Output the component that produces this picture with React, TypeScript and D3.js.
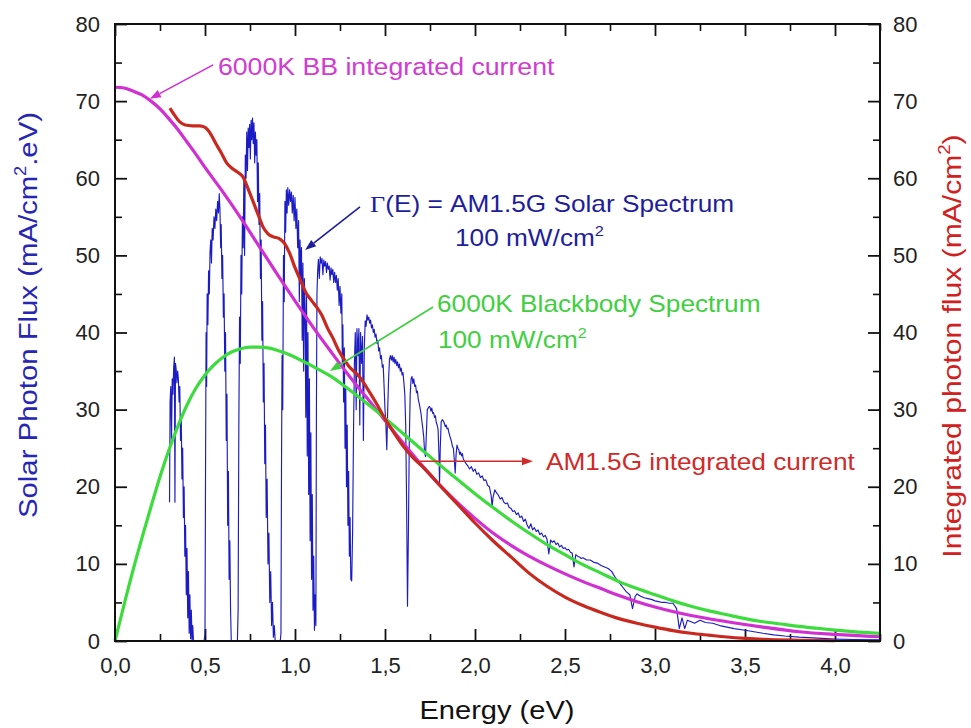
import React, { useEffect, useRef } from 'react';
import * as d3 from 'd3';

type Pt = [number, number];

// AM1.5G solar photon flux per eV [E (eV), mA/cm2.eV]
const am15gFlux: Pt[] = [
  [0.303, 18], [0.306, 31], [0.310, 33], [0.314, 26], [0.318, 34], [0.322, 32], [0.326, 35.5], [0.330, 36.8],
  [0.333, 18], [0.336, 36], [0.340, 35.2], [0.344, 33.5], [0.348, 35], [0.352, 34], [0.356, 31], [0.360, 33],
  [0.364, 26], [0.368, 29], [0.372, 21], [0.376, 25], [0.380, 16], [0.384, 20], [0.388, 11], [0.392, 15],
  [0.396, 6], [0.400, 12], [0.404, 3], [0.408, 9], [0.412, 1], [0.416, 6], [0.420, 0.3], [0.424, 4],
  [0.428, 0], [0.432, 2], [0.436, 0], [0.495, 0],
  [0.500, 1], [0.503, 22], [0.506, 40], [0.509, 33], [0.512, 45], [0.516, 41], [0.520, 48], [0.524, 45],
  [0.528, 50.5], [0.532, 52], [0.536, 49], [0.540, 53.5], [0.545, 52], [0.550, 55], [0.555, 53.5], [0.560, 56],
  [0.565, 54.5], [0.570, 57], [0.575, 55.5], [0.579, 58], [0.583, 56], [0.587, 51], [0.590, 54], [0.594, 47],
  [0.598, 50], [0.602, 42], [0.606, 45], [0.610, 35], [0.614, 40], [0.618, 26], [0.622, 32], [0.626, 15],
  [0.630, 22], [0.634, 8], [0.638, 13], [0.642, 4], [0.646, 0], [0.680, 0],
  [0.684, 4], [0.688, 28], [0.692, 42], [0.696, 36], [0.700, 50], [0.704, 45], [0.708, 55], [0.712, 51],
  [0.716, 60], [0.720, 50], [0.724, 63], [0.728, 60], [0.732, 66], [0.736, 61], [0.740, 66.5], [0.744, 64],
  [0.748, 67], [0.752, 62.5], [0.756, 67.5], [0.760, 65], [0.764, 67.8], [0.768, 64.5], [0.772, 67.2], [0.776, 62],
  [0.780, 66], [0.784, 63], [0.788, 65], [0.792, 57], [0.796, 62], [0.800, 54], [0.804, 58], [0.808, 47],
  [0.812, 52], [0.816, 39], [0.820, 44], [0.824, 31], [0.828, 36], [0.832, 23], [0.836, 28], [0.840, 16],
  [0.845, 21], [0.850, 10], [0.855, 14], [0.860, 5], [0.865, 9], [0.870, 2], [0.875, 5], [0.880, 0.5],
  [0.885, 2], [0.890, 0], [0.918, 0],
  [0.922, 1], [0.925, 22], [0.928, 37], [0.932, 30], [0.936, 50], [0.940, 44], [0.944, 57], [0.948, 53],
  [0.952, 58.5], [0.956, 55.5], [0.960, 58.8], [0.965, 56.5], [0.970, 58.5], [0.975, 57], [0.980, 58.2], [0.985, 55.5],
  [0.990, 57.8], [0.995, 54.5], [1.000, 57.5], [1.005, 53.5], [1.010, 56], [1.015, 51], [1.020, 54.5], [1.024, 44],
  [1.028, 52], [1.032, 47], [1.036, 51], [1.040, 39], [1.044, 49], [1.048, 35], [1.052, 47], [1.056, 43],
  [1.060, 29], [1.064, 45], [1.068, 24], [1.072, 40], [1.076, 19], [1.080, 34], [1.084, 13], [1.088, 27],
  [1.092, 8], [1.096, 19], [1.100, 4], [1.104, 11], [1.108, 1.4], [1.112, 6], [1.116, 2],
  [1.119, 30], [1.122, 45], [1.126, 48], [1.130, 49.5], [1.135, 47], [1.140, 49.8], [1.145, 49], [1.150, 49.6],
  [1.155, 47.5], [1.160, 49.4], [1.165, 48.6], [1.170, 49.2], [1.175, 47.8], [1.180, 49], [1.185, 48.2], [1.190, 48.6],
  [1.195, 46.8], [1.200, 48.4], [1.205, 47.5], [1.210, 48.2], [1.215, 46.5], [1.220, 47.8], [1.225, 46.5], [1.230, 47.4],
  [1.235, 45.5], [1.240, 47], [1.245, 43.5], [1.250, 46], [1.255, 42.5], [1.260, 45], [1.263, 36], [1.266, 41],
  [1.270, 31], [1.274, 38], [1.278, 25], [1.282, 33], [1.286, 20], [1.290, 28], [1.294, 15], [1.298, 22],
  [1.302, 11], [1.306, 16], [1.310, 8], [1.315, 7.8], [1.320, 14], [1.325, 27],
  [1.330, 36], [1.335, 40], [1.340, 30], [1.344, 40.5], [1.350, 37], [1.355, 40.5], [1.360, 28], [1.364, 40],
  [1.370, 36], [1.375, 39.5], [1.380, 26], [1.385, 38], [1.390, 41.5], [1.395, 40.8], [1.400, 42.3], [1.405, 41.6],
  [1.410, 42], [1.415, 41.2], [1.420, 41.6], [1.425, 40.6], [1.430, 41], [1.435, 40], [1.440, 40.4], [1.445, 39.4],
  [1.450, 39.8], [1.455, 38.6], [1.460, 39], [1.465, 37.6], [1.470, 38], [1.475, 36.6], [1.480, 37], [1.485, 35.5],
  [1.490, 35.8], [1.495, 33], [1.500, 30], [1.505, 28], [1.510, 24.8], [1.515, 30], [1.520, 34], [1.525, 36.5],
  [1.530, 37], [1.535, 36.4], [1.540, 37], [1.545, 36.2], [1.550, 36.8], [1.555, 36], [1.560, 36.5], [1.565, 35.7],
  [1.570, 36.2], [1.575, 35.4], [1.580, 35.9], [1.585, 35], [1.590, 35.4], [1.595, 34.5], [1.600, 34.8], [1.605, 33.5],
  [1.610, 32], [1.615, 28], [1.620, 18], [1.625, 4.5], [1.630, 14], [1.635, 26], [1.640, 32], [1.645, 34],
  [1.650, 34.3], [1.655, 33.4], [1.660, 34], [1.665, 33], [1.670, 33.2], [1.675, 32.2], [1.680, 32.4], [1.685, 31.3],
  [1.690, 30.8], [1.695, 30.2], [1.700, 29.5], [1.705, 28.5], [1.710, 27.6], [1.715, 26.5], [1.720, 24.5], [1.725, 23.9],
  [1.730, 27], [1.735, 30], [1.740, 30.2], [1.745, 30.4], [1.750, 30.3], [1.755, 29.8], [1.760, 30.2], [1.765, 29.5],
  [1.770, 29.6], [1.775, 29], [1.780, 29.2], [1.785, 28.3], [1.790, 28], [1.795, 27.4], [1.800, 24], [1.803, 20.5],
  [1.807, 25], [1.812, 28.4], [1.818, 28.7], [1.825, 28.5], [1.830, 28.2], [1.835, 27.8], [1.840, 28], [1.845, 27.5],
  [1.850, 27.6], [1.855, 27], [1.860, 26.6], [1.865, 26.2], [1.870, 25.8], [1.875, 25.2], [1.880, 25], [1.885, 23.5],
  [1.890, 21.8], [1.895, 24.2], [1.900, 25.4], [1.905, 25], [1.910, 24.8], [1.915, 24.2], [1.920, 24.5], [1.925, 24],
  [1.930, 24.3], [1.935, 23.6], [1.940, 23.4], [1.950, 23], [1.960, 22.7], [1.970, 22.3], [1.980, 22.6], [1.990, 22],
  [2.000, 22.3], [2.010, 21.6], [2.020, 21.8], [2.030, 21.2], [2.040, 21.4], [2.050, 20.8], [2.060, 20.9], [2.070, 20.2],
  [2.080, 20], [2.090, 18.8], [2.095, 17.4], [2.100, 18.6], [2.110, 19.6], [2.120, 19.2], [2.130, 18.9], [2.140, 18.4],
  [2.150, 18.6], [2.160, 18], [2.170, 17.8], [2.180, 17.9], [2.190, 17.3], [2.200, 17.2], [2.210, 16.8], [2.220, 16.9],
  [2.230, 16.4], [2.240, 16.6], [2.250, 16], [2.260, 16.2], [2.270, 15.5], [2.280, 15.8], [2.290, 15], [2.300, 14.6],
  [2.310, 15.2], [2.320, 14.4], [2.330, 14.7], [2.340, 14.2], [2.350, 14.4], [2.360, 13.8], [2.370, 14], [2.380, 13.5],
  [2.390, 13.7], [2.400, 13.2], [2.410, 11.3], [2.420, 13.1], [2.430, 12.8], [2.440, 13], [2.450, 12.5], [2.460, 12.7],
  [2.470, 12.2], [2.480, 12.4], [2.490, 12], [2.500, 12.1], [2.510, 11.8], [2.520, 11.9], [2.530, 11.5], [2.540, 11.4],
  [2.550, 9.6], [2.560, 11.2], [2.570, 11], [2.580, 10.9], [2.590, 10.7], [2.600, 10.8], [2.620, 10.5], [2.640, 10.5],
  [2.660, 10.2], [2.680, 10.1], [2.700, 9.8], [2.720, 9.6], [2.740, 9.4], [2.760, 9], [2.780, 8.2], [2.790, 7.9],
  [2.800, 7.6], [2.820, 7], [2.840, 6.4], [2.860, 6], [2.875, 4.2], [2.890, 5.8], [2.900, 6.1], [2.920, 5.8],
  [2.940, 5.6], [2.960, 5.5], [2.980, 5.4], [3.000, 5.2], [3.020, 5.1], [3.040, 5], [3.060, 5], [3.080, 4.9],
  [3.100, 4.9], [3.120, 4.2], [3.135, 1.6], [3.150, 3], [3.165, 1.6], [3.180, 2.7], [3.200, 2.5], [3.220, 2.3],
  [3.250, 2.7], [3.280, 2.4], [3.320, 2.3], [3.360, 2], [3.400, 1.8], [3.440, 1.6], [3.500, 1.4], [3.550, 1.2],
  [3.600, 1], [3.660, 0.8], [3.720, 0.65], [3.800, 0.5], [3.880, 0.4], [3.950, 0.3], [4.000, 0.25], [4.100, 0.2],
  [4.250, 0.15],
];

// 6000K blackbody photon flux per eV, scaled to 100 mW/cm2
const bbFlux: Pt[] = [
  [0, 0], [0.03, 2.8], [0.06, 5.6], [0.09, 8.3], [0.12, 10.9], [0.16, 14.2], [0.2, 17.4], [0.25, 21.3],
  [0.3, 24.8], [0.35, 27.9], [0.4, 30.6], [0.45, 32.8], [0.5, 34.5], [0.55, 35.8], [0.6, 36.8], [0.65, 37.5],
  [0.7, 37.9], [0.75, 38.1], [0.8, 38.1], [0.85, 38], [0.9, 37.7], [0.95, 37.3], [1.0, 36.8], [1.1, 35.6],
  [1.2, 34.3], [1.3, 32.6], [1.4, 30.8], [1.5, 28.9], [1.6, 26.9], [1.7, 24.9], [1.8, 22.9], [1.9, 21],
  [2.0, 19.1], [2.1, 17.3], [2.2, 15.6], [2.3, 14], [2.4, 12.5], [2.5, 11.2], [2.6, 9.9], [2.7, 8.8],
  [2.8, 7.7], [2.9, 6.8], [3.0, 6], [3.1, 5.2], [3.2, 4.5], [3.3, 3.9], [3.4, 3.4], [3.5, 2.9],
  [3.6, 2.5], [3.7, 2.2], [3.8, 1.9], [3.9, 1.65], [4.0, 1.42], [4.1, 1.22], [4.25, 0.98],
];

// integrated photon flux above E (mA/cm2), right axis
const bbCurrent: Pt[] = [
  [0, 71.8], [0.05, 71.7], [0.1, 71.3], [0.15, 70.8], [0.2, 70], [0.25, 69], [0.3, 67.7], [0.35, 66.3],
  [0.4, 64.7], [0.45, 63.1], [0.5, 61.4], [0.6, 58.2], [0.7, 54.8], [0.8, 51.2], [0.9, 47.6], [1.0, 44.1],
  [1.1, 40.7], [1.2, 37.5], [1.3, 34.4], [1.4, 31.5], [1.5, 28.6], [1.6, 25.7], [1.7, 22.9], [1.8, 20.3],
  [1.9, 18], [2.0, 15.9], [2.1, 14], [2.2, 12.4], [2.3, 11], [2.4, 9.8], [2.5, 8.7], [2.6, 7.7],
  [2.7, 6.8], [2.8, 5.9], [2.9, 5.1], [3.0, 4.4], [3.2, 3.3], [3.4, 2.5], [3.6, 1.8], [3.8, 1.2],
  [4.0, 0.85], [4.25, 0.55],
];

const am15gCurrent: Pt[] = [
  [0.305, 69.1], [0.33, 68.2], [0.36, 67.3], [0.39, 66.9], [0.43, 66.8], [0.47, 66.8], [0.5, 66.6], [0.53, 65.8],
  [0.56, 64.5], [0.59, 63.3], [0.62, 62], [0.65, 61.3], [0.68, 60.8], [0.71, 60.2], [0.74, 58.6], [0.77, 56.8],
  [0.80, 55], [0.82, 53.8], [0.85, 52.8], [0.88, 52.4], [0.91, 52.2], [0.94, 51.6], [0.97, 50.3], [1.0, 48.4],
  [1.03, 46.8], [1.06, 45.2], [1.09, 44.2], [1.12, 43.3], [1.15, 42.2], [1.18, 40.6], [1.21, 39.3], [1.24, 37.8],
  [1.27, 36.6], [1.3, 35.6], [1.33, 34.9], [1.36, 34.2], [1.4, 32.8], [1.45, 30.9], [1.5, 28.8], [1.55, 27],
  [1.6, 25.3], [1.65, 23.9], [1.7, 22.8], [1.75, 21.6], [1.8, 20.3], [1.9, 17.8], [2.0, 15.3], [2.1, 13],
  [2.2, 10.9], [2.3, 8.8], [2.4, 7.1], [2.5, 5.7], [2.6, 4.6], [2.7, 3.7], [2.8, 2.9], [2.9, 2.3],
  [3.0, 1.8], [3.1, 1.35], [3.2, 1.0], [3.3, 0.75], [3.4, 0.52], [3.5, 0.35], [3.6, 0.22], [3.8, 0.1],
  [4.0, 0.04],
];

const energyTicks = [0, 0.5, 1, 1.5, 2, 2.5, 3, 3.5, 4];
const energyMinorTicks = [0.25, 0.75, 1.25, 1.75, 2.25, 2.75, 3.25, 3.75, 4.25];
const fluxTicks = [0, 10, 20, 30, 40, 50, 60, 70, 80];
const fluxMinorTicks = [5, 15, 25, 35, 45, 55, 65, 75];

const W = 971;
const H = 728;
const FONT = '"Liberation Sans", Arial, Helvetica, sans-serif';

const App = () => {
  const svgRef = useRef<SVGSVGElement>(null);

  useEffect(() => {
    const margin = { top: 24, right: 91, bottom: 87, left: 115 };
    const width = W - margin.left - margin.right;
    const height = H - margin.top - margin.bottom;

    const svg = d3.select(svgRef.current);
    svg.selectAll('*').remove();

    const g = svg.append('g').attr('transform', `translate(${margin.left},${margin.top})`);

    const x = d3.scaleLinear().domain([0, 4.25]).range([0, width]);
    const y = d3.scaleLinear().domain([0, 80]).range([height, 0]);
    const yRight = d3.scaleLinear().domain([0, 80]).range([height, 0]);

    const comma = (d: number) => d3.format('.1f')(d).replace('.', ',');

    // axes: all ticks point inward, only bottom/left/right carry labels
    const styleAxis = (sel: any, minor: boolean) => {
      sel.select('.domain').remove();
      sel.selectAll('line').attr('stroke', '#111').attr('stroke-width', minor ? 1.6 : 1.8);
      sel.selectAll('text').attr('font-family', FONT).attr('font-size', 22).attr('fill', '#222');
    };

    g.append('g').attr('transform', `translate(0,${height})`)
      .call(d3.axisBottom(x).tickValues(energyTicks).tickSize(-12).tickSizeOuter(0).tickPadding(16).tickFormat(comma as any))
      .call((s: any) => styleAxis(s, false));
    g.append('g').attr('transform', `translate(0,${height})`)
      .call(d3.axisBottom(x).tickValues(energyMinorTicks).tickSize(-7).tickSizeOuter(0).tickFormat(() => ''))
      .call((s: any) => styleAxis(s, true));
    g.append('g')
      .call(d3.axisTop(x).tickValues(energyTicks).tickSize(-12).tickSizeOuter(0).tickFormat(() => ''))
      .call((s: any) => styleAxis(s, false));
    g.append('g')
      .call(d3.axisTop(x).tickValues(energyMinorTicks).tickSize(-7).tickSizeOuter(0).tickFormat(() => ''))
      .call((s: any) => styleAxis(s, true));
    g.append('g')
      .call(d3.axisLeft(y).tickValues(fluxTicks).tickSize(-12).tickSizeOuter(0).tickPadding(15).tickFormat(d3.format('d') as any))
      .call((s: any) => styleAxis(s, false));
    g.append('g')
      .call(d3.axisLeft(y).tickValues(fluxMinorTicks).tickSize(-7).tickSizeOuter(0).tickFormat(() => ''))
      .call((s: any) => styleAxis(s, true));
    g.append('g').attr('transform', `translate(${width},0)`)
      .call(d3.axisRight(yRight).tickValues(fluxTicks).tickSize(-12).tickSizeOuter(0).tickPadding(13).tickFormat(d3.format('d') as any))
      .call((s: any) => styleAxis(s, false));
    g.append('g').attr('transform', `translate(${width},0)`)
      .call(d3.axisRight(yRight).tickValues(fluxMinorTicks).tickSize(-7).tickSizeOuter(0).tickFormat(() => ''))
      .call((s: any) => styleAxis(s, true));

    // curves
    const lineL = d3.line<Pt>().x(d => x(d[0])).y(d => y(d[1]));
    const smoothL = d3.line<Pt>().x(d => x(d[0])).y(d => y(d[1])).curve(d3.curveMonotoneX);
    const smoothR = d3.line<Pt>().x(d => x(d[0])).y(d => yRight(d[1])).curve(d3.curveMonotoneX);

    g.append('path').datum(am15gFlux).attr('d', lineL)
      .attr('fill', 'none').attr('stroke', '#1c1cc4').attr('stroke-width', 1.15).attr('stroke-linejoin', 'round');
    g.append('path').datum(bbCurrent).attr('d', smoothR)
      .attr('fill', 'none').attr('stroke', '#d22fd2').attr('stroke-width', 3.2);
    g.append('path').datum(bbFlux).attr('d', smoothL)
      .attr('fill', 'none').attr('stroke', '#3ddc3d').attr('stroke-width', 3.2);
    g.append('path').datum(am15gCurrent).attr('d', smoothR)
      .attr('fill', 'none').attr('stroke', '#c8281e').attr('stroke-width', 3.2);

    // frame
    g.append('rect').attr('width', width).attr('height', height)
      .attr('fill', 'none').attr('stroke', '#111').attr('stroke-width', 2);

    // arrows for the annotations
    const arrow = (x1: number, y1: number, x2: number, y2: number, color: string) => {
      const a = Math.atan2(y2 - y1, x2 - x1);
      const len = 11, hw = 4;
      const bx = x2 - len * Math.cos(a), by = y2 - len * Math.sin(a);
      g.append('line').attr('x1', x1).attr('y1', y1).attr('x2', bx).attr('y2', by)
        .attr('stroke', color).attr('stroke-width', 1.6);
      g.append('polygon')
        .attr('points', [
          [x2, y2],
          [bx + hw * Math.sin(a), by - hw * Math.cos(a)],
          [bx - hw * Math.sin(a), by + hw * Math.cos(a)],
        ].map(p => p.join(',')).join(' '))
        .attr('fill', color);
    };

    type Part = { t: string; sup?: boolean; serif?: boolean };
    const label = (parent: any, px: number, py: number, parts: Part[], color: string,
      size: number, sx: number, anchor: string, rotate = false) => {
      const text = parent.append('g')
        .attr('transform', `translate(${px},${py})${rotate ? ' rotate(-90)' : ''} scale(${sx},1)`)
        .append('text')
        .attr('font-family', FONT).attr('font-size', size).attr('fill', color).attr('text-anchor', anchor);
      let raised = false;
      parts.forEach(p => {
        const ts = text.append('tspan').text(p.t);
        if (p.serif) ts.attr('font-family', '"Liberation Serif", "Times New Roman", serif');
        if (p.sup) {
          ts.attr('font-size', size * 0.62).attr('dy', -size * 0.42);
          raised = true;
        } else if (raised) {
          ts.attr('dy', size * 0.42);
          raised = false;
        }
      });
    };

    // 6000K BB integrated current
    arrow(x(0.545), yRight(74.7), x(0.194), yRight(70.3), '#d22fd2');
    label(g, x(0.572), yRight(73.4), [{ t: '6000K BB integrated current' }], '#d03cd0', 23, 1.16, 'start');

    // AM1.5G spectrum
    arrow(x(1.361), y(56.3), x(1.056), y(50.7), '#1e1e9c');
    label(g, x(1.417), y(55.6), [{ t: 'Γ', serif: true }, { t: '(E) = AM1.5G Solar Spectrum' }], '#1e1e9c', 23, 1.14, 'start');
    label(g, x(1.889), y(51.2), [{ t: '100 mW/cm' }, { t: '2', sup: true }], '#1e1e9c', 23, 1.14, 'start');

    // 6000K blackbody spectrum
    arrow(x(1.767), y(43.3), x(1.194), y(35.0), '#3fd03f');
    label(g, x(1.789), y(42.7), [{ t: '6000K Blackbody Spectrum' }], '#3fcf3f', 23, 1.14, 'start');
    label(g, x(1.794), y(38), [{ t: '100 mW/cm' }, { t: '2', sup: true }], '#3fcf3f', 23, 1.14, 'start');

    // AM1.5G integrated current
    arrow(x(1.694), yRight(23.3), x(2.322), yRight(23.3), '#d02a2a');
    label(g, x(2.394), yRight(22.2), [{ t: 'AM1.5G integrated current' }], '#d02a2a', 23, 1.14, 'start');

    // axis titles
    label(svg, 497, 719, [{ t: 'Energy (eV)' }], '#111', 25.5, 1.14, 'middle');
    label(svg, 37, 315, [{ t: 'Solar Photon Flux (mA/cm' }, { t: '2', sup: true }, { t: '.eV)' }],
      '#2626b4', 25.5, 1.15, 'middle', true);
    label(svg, 961, 346, [{ t: 'Integrated photon flux (mA/cm' }, { t: '2', sup: true }, { t: ')' }],
      '#d02020', 25.5, 1.18, 'middle', true);
  }, []);

  return (
    <svg ref={svgRef} width={W} height={H}
      style={{ position: 'absolute', left: 0, top: 0, background: '#fff' }} />
  );
};

export default App;
